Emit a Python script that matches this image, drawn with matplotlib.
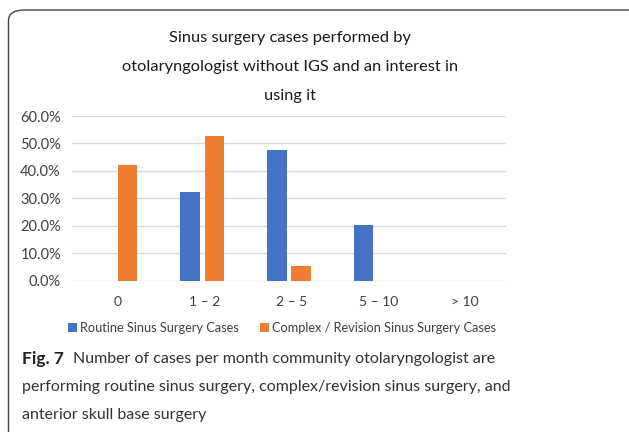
import matplotlib.pyplot as plt
from matplotlib.patches import FancyBboxPatch
import numpy as np

categories = ["0", "1 – 2", "2 – 5", "5 – 10", "> 10"]
routine = [0.0, 32.2, 47.5, 20.3, 0.0]
complex_rev = [42.1, 52.6, 5.3, 0.0, 0.0]
yticks = [0, 10, 20, 30, 40, 50, 60]

W, H = 629, 432
chart_font = ["Lato", "DejaVu Sans"]
cap_font = ["Lato", "DejaVu Sans"]

fig = plt.figure(figsize=(W / 100, H / 100), dpi=100)

# rounded frame round the whole figure
frame = FancyBboxPatch((8.5 / W, -20 / H), 640 / W, (H - 10 + 20) / H,
                       boxstyle="round,pad=0,rounding_size=0.025",
                       transform=fig.transFigure, fill=False,
                       edgecolor="#444444", linewidth=1.0)
fig.patches.append(frame)

ax = fig.add_axes([72 / W, 1 - 280.7 / H, (506 - 72) / W, (280.7 - 116) / H])
x = np.arange(len(categories))
w = 0.225
ax.bar(x - 0.14, routine, w, color="#4472C4", label="Routine Sinus Surgery Cases")
ax.bar(x + 0.14, complex_rev, w, color="#ED7D31", label="Complex / Revision Sinus Surgery Cases")

ax.set_xlim(-0.5, 4.5)
ax.set_ylim(0, 60)
ax.set_yticks(yticks)
ax.set_yticklabels([f"{v:.1f}%" for v in yticks], fontsize=10.5, color="#404040", family=chart_font)
ax.set_xticks(x + 0.03)
ax.set_xticklabels(categories, fontsize=10, color="#404040", family=chart_font)
ax.tick_params(length=0, pad=11)
ax.tick_params(axis="y", pad=8)
ax.grid(axis="y", color="#D9D9D9", linewidth=1)
ax.set_axisbelow(True)
for s in ax.spines.values():
    s.set_visible(False)

leg = fig.legend(loc="center", bbox_to_anchor=(282 / W, 1 - 328 / H), ncol=2,
                 frameon=False, handlelength=0.7, handleheight=0.7, handletextpad=0.25,
                 columnspacing=1.7, prop={"family": chart_font, "size": 9.2})
for t in leg.get_texts():
    t.set_color("#404040")

title = ["Sinus surgery cases performed by",
         "otolaryngologist without IGS and an interest in",
         "using it"]
for i, line in enumerate(title):
    fig.text(290 / W, 1 - (38 + i * 29) / H, line, ha="center", va="center",
             fontsize=11.8, color="#1a1a1a", family=chart_font)

cap_y = [359, 387, 415]
fig.text(22 / W, 1 - cap_y[0] / H, "Fig. 7", ha="left", va="center",
         fontsize=12.5, fontweight="bold", color="#222222", family=cap_font)
fig.text(73 / W, 1 - cap_y[0] / H,
         "Number of cases per month community otolaryngologist are",
         ha="left", va="center", fontsize=11.5, color="#333333", family=cap_font)
fig.text(22 / W, 1 - cap_y[1] / H,
         "performing routine sinus surgery, complex/revision sinus surgery, and",
         ha="left", va="center", fontsize=11.5, color="#333333", family=cap_font)
fig.text(22 / W, 1 - cap_y[2] / H, "anterior skull base surgery",
         ha="left", va="center", fontsize=11.5, color="#333333", family=cap_font)

fig.savefig("out.png", dpi=100)
